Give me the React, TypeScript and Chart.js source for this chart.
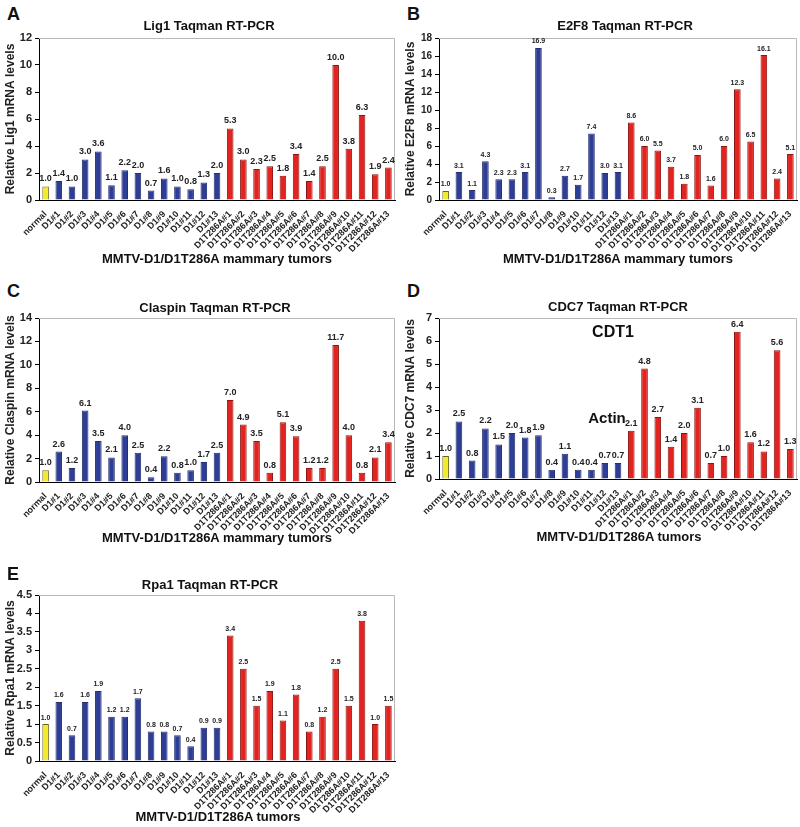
import React, { useEffect, useRef } from "react";
import { Chart, registerables } from "chart.js";
Chart.register(...registerables);

const categories = [
  "normal", "D1#1", "D1#2", "D1#3", "D1#4", "D1#5", "D1#6", "D1#7", "D1#8", "D1#9", "D1#10", "D1#11", "D1#12", "D1#13",
  "D1T286A#1", "D1T286A#2", "D1T286A#3", "D1T286A#4", "D1T286A#5", "D1T286A#6", "D1T286A#7", "D1T286A#8", "D1T286A#9",
  "D1T286A#10", "D1T286A#11", "D1T286A#12", "D1T286A#13",
];

const lig1Values = [1.0, 1.4, 1.0, 3.0, 3.6, 1.1, 2.2, 2.0, 0.7, 1.6, 1.0, 0.8, 1.3, 2.0,
  5.3, 3.0, 2.3, 2.5, 1.8, 3.4, 1.4, 2.5, 10.0, 3.8, 6.3, 1.9, 2.4];
const e2f8Values = [1.0, 3.1, 1.1, 4.3, 2.3, 2.3, 3.1, 16.9, 0.3, 2.7, 1.7, 7.4, 3.0, 3.1,
  8.6, 6.0, 5.5, 3.7, 1.8, 5.0, 1.6, 6.0, 12.3, 6.5, 16.1, 2.4, 5.1];
const claspinValues = [1.0, 2.6, 1.2, 6.1, 3.5, 2.1, 4.0, 2.5, 0.4, 2.2, 0.8, 1.0, 1.7, 2.5,
  7.0, 4.9, 3.5, 0.8, 5.1, 3.9, 1.2, 1.2, 11.7, 4.0, 0.8, 2.1, 3.4];
const cdc7Values = [1.0, 2.5, 0.8, 2.2, 1.5, 2.0, 1.8, 1.9, 0.4, 1.1, 0.4, 0.4, 0.7, 0.7,
  2.1, 4.8, 2.7, 1.4, 2.0, 3.1, 0.7, 1.0, 6.4, 1.6, 1.2, 5.6, 1.3];
const rpa1Values = [1.0, 1.6, 0.7, 1.6, 1.9, 1.2, 1.2, 1.7, 0.8, 0.8, 0.7, 0.4, 0.9, 0.9,
  3.4, 2.5, 1.5, 1.9, 1.1, 1.8, 0.8, 1.2, 2.5, 1.5, 3.8, 1.0, 1.5];

const FONT = "'Liberation Sans', Arial, Helvetica, sans-serif";
const YELLOW = "#f3ea2e";
const BLUE = "#2e3d96";
const RED = "#e2231f";

const barColor = (i: number) => (i === 0 ? YELLOW : i <= 13 ? BLUE : RED);
const barBorder = (i: number) => (i === 0 ? "#6b6420" : i <= 13 ? "#24306f" : "#8a1512");

const framePlugin = {
  id: "frameLines",
  beforeDatasetsDraw(chart: any) {
    const { ctx, chartArea: a } = chart;
    ctx.save();
    ctx.strokeStyle = "#b8b8b8";
    ctx.lineWidth = 1;
    ctx.beginPath();
    ctx.moveTo(a.left, Math.round(a.top) + 0.5);
    ctx.lineTo(Math.round(a.right) - 0.5, Math.round(a.top) + 0.5);
    ctx.lineTo(Math.round(a.right) - 0.5, a.bottom);
    ctx.stroke();
    ctx.restore();
  },
};

const valueLabelPlugin = {
  id: "valueLabels",
  afterDatasetsDraw(chart: any, _args: any, opts: any) {
    const { ctx } = chart;
    const meta = chart.getDatasetMeta(0);
    const data = chart.data.datasets[0].data;
    ctx.save();
    ctx.font = `bold ${opts.size || 10}px ${FONT}`;
    ctx.fillStyle = "#222";
    ctx.textAlign = "center";
    ctx.textBaseline = "bottom";
    meta.data.forEach((el: any, i: number) => {
      ctx.fillText(Number(data[i]).toFixed(1), el.x, el.y - 3);
    });
    ctx.restore();
  },
};

type PanelProps = {
  x0: number;
  left: number;
  right: number;
  top: number;
  bottom: number;
  values: number[];
  yMax: number;
  yStep: number;
  yTitle: string;
  yTickSize: number;
  labelSize: number;
};

function BarPanel(p: PanelProps) {
  const ref = useRef<HTMLCanvasElement | null>(null);
  const padTop = 12;
  const xAxisH = 55;
  const padRight = 4;
  const canvasTop = p.top - padTop;
  const width = p.right + padRight - p.x0;
  const height = p.bottom + xAxisH - canvasTop;

  useEffect(() => {
    if (!ref.current) return;
    const chart = new Chart(ref.current, {
      type: "bar",
      data: {
        labels: categories,
        datasets: [
          {
            data: p.values,
            backgroundColor: p.values.map((_, i) => barColor(i)),
            borderColor: p.values.map((_, i) => barBorder(i)),
            borderWidth: 1,
            barPercentage: 0.5,
            categoryPercentage: 1,
          },
        ],
      },
      options: {
        animation: false,
        responsive: false,
        maintainAspectRatio: false,
        layout: { padding: { top: padTop, right: padRight, left: 0, bottom: 0 } },
        plugins: {
          legend: { display: false },
          tooltip: { enabled: false },
          title: { display: false },
          valueLabels: { size: p.labelSize },
        } as any,
        scales: {
          x: {
            type: "category",
            offset: true,
            grid: { display: false, offset: true },
            border: { display: true, color: "#000", width: 1 },
            ticks: {
              autoSkip: false,
              maxRotation: 45,
              minRotation: 45,
              padding: 1,
              color: "#222",
              font: { family: FONT, size: 9, weight: "bold" },
            },
            afterFit: (s: any) => {
              s.height = xAxisH;
            },
          },
          y: {
            min: 0,
            max: p.yMax,
            ticks: {
              stepSize: p.yStep,
              color: "#222",
              padding: 3,
              font: { family: FONT, size: p.yTickSize, weight: "bold" },
              callback: (v: any) => String(Math.round(Number(v) * 10) / 10),
            },
            grid: { display: true, drawOnChartArea: false, tickLength: 4, color: "#000" },
            border: { display: true, color: "#000", width: 1 },
            title: {
              display: true,
              text: p.yTitle,
              color: "#222",
              padding: { top: 3, bottom: 0 },
              font: { family: FONT, size: 12, weight: "bold" },
            },
            afterFit: (s: any) => {
              s.width = p.left - p.x0;
            },
          },
        },
      },
      plugins: [framePlugin, valueLabelPlugin],
    } as any);
    return () => chart.destroy();
  }, []);

  return (
    <canvas
      ref={ref}
      width={width}
      height={height}
      style={{ position: "absolute", left: p.x0, top: canvasTop, width, height }}
    />
  );
}

function Txt(props: { x: number; y: number; size: number; children: React.ReactNode; anchor?: "center" | "left" }) {
  const tx = props.anchor === "left" ? "0" : "-50%";
  return (
    <div
      style={{
        position: "absolute",
        left: props.x,
        top: props.y,
        transform: `translate(${tx}, -50%)`,
        fontFamily: FONT,
        fontWeight: "bold",
        fontSize: props.size,
        lineHeight: 1,
        whiteSpace: "nowrap",
        color: "#111",
      }}
    >
      {props.children}
    </div>
  );
}

export default function App() {
  return (
    <div style={{ position: "absolute", left: 0, top: 0, width: 800, height: 827, background: "#fff", overflow: "hidden" }}>
      <BarPanel x0={0} left={39} right={395} top={38} bottom={200} values={lig1Values} yMax={12} yStep={2}
        yTitle="Relative Lig1 mRNA levels" yTickSize={11} labelSize={9} />
      <BarPanel x0={400} left={439} right={797} top={38} bottom={200} values={e2f8Values} yMax={18} yStep={2}
        yTitle="Relative E2F8 mRNA levels" yTickSize={10} labelSize={7} />
      <BarPanel x0={0} left={39} right={395} top={318} bottom={482} values={claspinValues} yMax={14} yStep={2}
        yTitle="Relative Claspin mRNA levels" yTickSize={11} labelSize={9} />
      <BarPanel x0={400} left={439} right={797} top={318} bottom={479} values={cdc7Values} yMax={7} yStep={1}
        yTitle="Relative CDC7 mRNA levels" yTickSize={11} labelSize={9} />
      <BarPanel x0={0} left={39} right={395} top={595} bottom={761} values={rpa1Values} yMax={4.5} yStep={0.5}
        yTitle="Relative Rpa1 mRNA levels" yTickSize={11} labelSize={7} />

      <Txt x={7} y={14} size={18} anchor="left">A</Txt>
      <Txt x={407} y={14} size={18} anchor="left">B</Txt>
      <Txt x={7} y={291} size={18} anchor="left">C</Txt>
      <Txt x={407} y={291} size={18} anchor="left">D</Txt>
      <Txt x={7} y={574} size={18} anchor="left">E</Txt>

      <Txt x={209} y={25} size={13}>Lig1 Taqman RT-PCR</Txt>
      <Txt x={625} y={25} size={13}>E2F8 Taqman RT-PCR</Txt>
      <Txt x={215} y={307} size={13}>Claspin Taqman RT-PCR</Txt>
      <Txt x={618} y={306} size={13}>CDC7 Taqman RT-PCR</Txt>
      <Txt x={210} y={584} size={13}>Rpa1 Taqman RT-PCR</Txt>

      <Txt x={217} y={258} size={13}>MMTV-D1/D1T286A mammary tumors</Txt>
      <Txt x={618} y={258} size={13}>MMTV-D1/D1T286A mammary tumors</Txt>
      <Txt x={217} y={537} size={13}>MMTV-D1/D1T286A mammary tumors</Txt>
      <Txt x={619} y={536} size={13}>MMTV-D1/D1T286A tumors</Txt>
      <Txt x={218} y={816} size={13}>MMTV-D1/D1T286A tumors</Txt>

      <Txt x={613} y={332} size={16}>CDT1</Txt>
      <Txt x={607} y={417} size={15}>Actin</Txt>
    </div>
  );
}
